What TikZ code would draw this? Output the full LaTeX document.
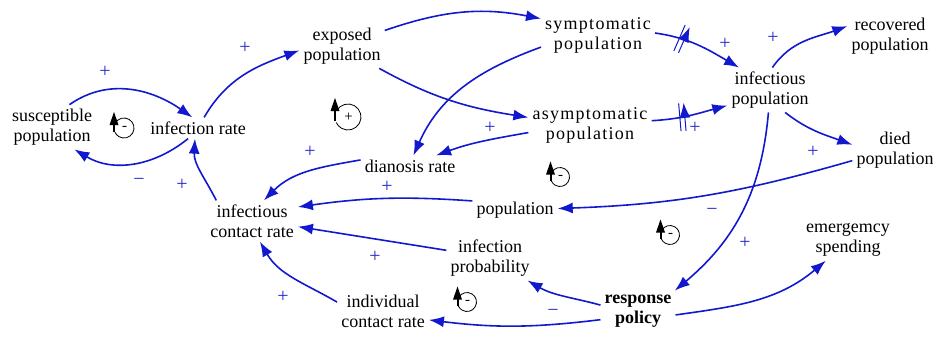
\documentclass[tikz,border=0pt]{standalone}
\usepackage{fontspec}
\setmainfont{Liberation Serif}
\newfontfamily\labelface{Liberation Serif}
\usetikzlibrary{arrows.meta,decorations.markings}
\definecolor{linkblue}{RGB}{18,24,205}
\definecolor{signblue}{RGB}{40,40,205}

\begin{document}
\begin{tikzpicture}[x=1pt,y=-1pt,
  var/.style={align=center, inner sep=4pt, font=\labelface\fontsize{18}{20}\selectfont},
  wide/.style={font=\labelface\fontsize{18}{20}\selectfont\addfontfeatures{LetterSpace=7}},
  link/.style={draw=linkblue, line width=1.6pt, -{Latex[length=15pt,width=11pt]}},
  sign/.style={text=signblue, font=\labelface\fontsize{20}{20}\selectfont, inner sep=0pt},
  delay/.style={postaction={decorate}, decoration={markings, mark=at position #1 with
    {\draw[linkblue, line width=1pt, rotate=-6] (-2.5pt,-14pt) -- (-2.5pt,14pt) (2.5pt,-14pt) -- (2.5pt,14pt);}}},
  pics/loopmark/.style 2 args={code={
    \draw[black, line width=0.8pt] (150:#1) arc[start angle=150, end angle=-155, radius=#1];
    \draw[black, line width=2pt] (-#1,-4pt) -- (-#1,#1-6pt);
    \fill[black] (-#1-4.5pt,#1-7pt) -- (-#1+4.5pt,#1-7pt) -- (-#1,#1+6pt) -- cycle;
    \node[inner sep=0pt, font=\labelface\fontsize{15}{15}\selectfont] at (0.5pt,-0.5pt) {#2};
  }}
]
\useasboundingbox (0,0) rectangle (933,340);

% variables
\node[var] (sus)   at (52,127)  {susceptible\\population};
\node[var] (ir)    at (198,128) {infection rate};
\node[var] (exp)   at (342,46)  {exposed\\population};
\node[var, wide] (sym)  at (598,35)  {symptomatic\\population};
\node[var, wide] (asym) at (590,125) {asymptomatic\\population};
\node[var] (dr)    at (410,166) {dianosis rate};
\node[var] (ip)    at (770,90)  {infectious\\population};
\node[var] (rec)   at (890,36)  {recovered\\population};
\node[var] (died)  at (895,150) {died\\population};
\node[var] (icr)   at (252,221) {infectious\\contact rate};
\node[var] (pop)   at (515,210) {population};
\node[var] (iprob) at (490,258) {infection\\probability};
\node[var] (es)    at (848,240) {emergemcy\\spending};
\node[var] (idr)   at (383,311) {individual\\contact rate};
\node[var, font=\labelface\fontsize{18}{20}\selectfont\bfseries] (rp) at (638,311) {response\\policy};

% causal links
\draw[link] (sus.52)   to[out=35,in=145]   (ir.118);
\draw[link] (ir.227)   to[out=219,in=-31]  (sus.315);
\draw[link] (ir.60)    to[out=60,in=200]   (exp.186);
\draw[link] (icr.150)  to[out=117,in=-93]  (ir.254);
\draw[link] (exp.20)   to[out=19,in=169]   (sym.164);
\draw[link] (exp.-31)  to[out=-29,in=171]  (asym.173);
\draw[link] (sym.192)  to[out=200,in=66]   (dr.72);
\draw[link] (asym.187) to[out=190,in=20]   (dr.22);
\draw[link] (dr.173)   to[out=190,in=45]   (icr.60);
\draw[link] (pop.168)  to[out=176,in=8]    (icr.17);
\draw[link] (iprob.170) -- (icr.-7);
\draw[link] (idr.169)  to[out=150,in=300]  (icr.291);
\draw[link, delay=0.3] (sym.2)  to[out=-8,in=150]  (ip.144);
\draw[link, delay=0.4] (asym.4) to[out=3,in=195]   (ip.200);
\draw[link] (ip.84)    to[out=55,in=200]   (rec.167);
\draw[link] (ip.-56)   to[out=-38,in=160]  (died.173);
\draw[link] (died.194) to[out=196,in=2]    (pop.2);
\draw[link] (ip.266)   to[out=265,in=40]   (rp.29);
\draw[link] (rp.-6)    to[out=8,in=220]    (es.223);
\draw[link] (rp.171)   to[out=165,in=-30]  (iprob.-31);
\draw[link] (rp.193)   to[out=187,in=-7]   (idr.-11);

% link polarities
\node[sign] (p1)  at (105,72)  {+};
\node[sign] (m1)  at (139,182) {−};
\node[sign] (p2)  at (245,48)  {+};
\node[sign] (p3)  at (182,185) {+};
\node[sign] (p4)  at (490,128) {+};
\node[sign] (p5)  at (310,152) {+};
\node[sign] (p6)  at (387,187) {+};
\node[sign] (p7)  at (375,257) {+};
\node[sign] (p8)  at (283,297) {+};
\node[sign] (p9)  at (725,44)  {+};
\node[sign] (p10) at (695,128) {+};
\node[sign] (p11) at (773,38)  {+};
\node[sign] (p12) at (813,152) {+};
\node[sign] (p13) at (745,243) {+};
\node[sign] (m2)  at (712,212) {−};
\node[sign] (m3)  at (553,313) {−};

% feedback loop markers
\pic at (124,128) {loopmark={10pt}{-}};
\pic at (348,117) {loopmark={13pt}{+}};
\pic at (560,177) {loopmark={9.5pt}{-}};
\pic at (670,235) {loopmark={9.5pt}{-}};
\pic at (467,302) {loopmark={9.5pt}{-}};
\end{tikzpicture}
\end{document}
